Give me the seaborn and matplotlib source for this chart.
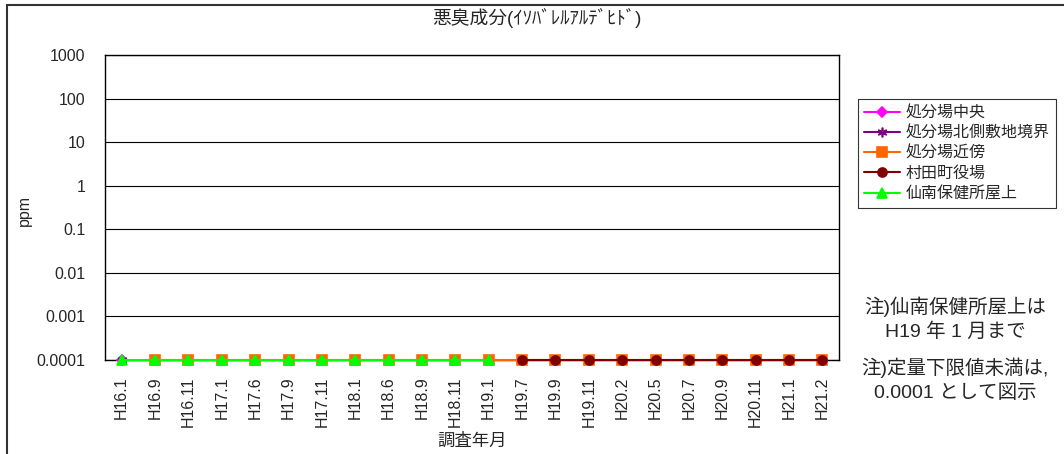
import numpy as np
import pandas as pd
import matplotlib
matplotlib.use("Agg")
from matplotlib import pyplot as plt
from matplotlib.patches import Rectangle
import seaborn as sns

months = ["H16.1", "H16.9", "H16.11", "H17.1", "H17.6", "H17.9", "H17.11",
          "H18.1", "H18.6", "H18.9", "H18.11", "H19.1", "H19.7", "H19.9",
          "H19.11", "H20.2", "H20.5", "H20.7", "H20.9", "H20.11", "H21.1", "H21.2"]

# all values below the detection limit -> plotted as 0.0001
nd = 0.0001
chuo = [nd] + [None] * 21                      # 処分場中央
kita = [nd] + [None] * 21                      # 処分場北側敷地境界
kinbo = [None] + [nd] * 21                     # 処分場近傍
yakuba = [None] * 12 + [nd] * 10               # 村田町役場
hokenjo = [nd] * 12 + [None] * 10              # 仙南保健所屋上

series_names = ["処分場中央", "処分場北側敷地境界", "処分場近傍", "村田町役場", "仙南保健所屋上"]
series_vals = [chuo, kita, kinbo, yakuba, hokenjo]
colors = ["#FF00FF", "#800080", "#FF6600", "#800000", "#00FF00"]
markers = ["D", (6, 2, 0), "s", "o", "^"]
msizes = [5.5, 7, 6.5, 6.5, 7.5]

rows = []
for name, vals in zip(series_names, series_vals):
    for i, v in enumerate(vals):
        if v is not None:
            rows.append({"pos": i, "month": months[i], "value": v, "series": name})
df = pd.DataFrame(rows)

sns.set_style("white")
plt.rcParams['font.family'] = ['Liberation Sans', 'Noto Sans CJK JP', 'DejaVu Sans']

fig = plt.figure(figsize=(10.64, 4.54), dpi=100)
ax = fig.add_axes([105 / 1064, 1 - 360 / 454, 734 / 1064, 305 / 454])

for name, c, m, ms in zip(series_names, colors, markers, msizes):
    sub = df[df["series"] == name]
    sns.lineplot(data=sub, x="pos", y="value", color=c, marker=m, markersize=ms,
                 markeredgecolor=c, markeredgewidth=1.2, linewidth=1.5,
                 label=name, ax=ax, clip_on=False, zorder=3)

ax.set_yscale("log")
ax.set_ylim(0.0001, 1000)
ax.set_xlim(-0.5, len(months) - 0.5)
ax.set_yticks([10.0 ** k for k in range(-4, 4)])
ax.set_yticklabels(["0.0001", "0.001", "0.01", "0.1", "1", "10", "100", "1000"])
ax.yaxis.set_minor_locator(matplotlib.ticker.NullLocator())
ax.grid(axis="y", color="black", linewidth=0.8)
ax.set_axisbelow(True)

ax.set_xticks(np.arange(len(months)))
ax.set_xticklabels(months, rotation=90, fontsize=11.5)
ax.set_xticks(np.arange(len(months) + 1) - 0.5, minor=True)
ax.tick_params(axis="x", which="major", length=0, pad=12)
ax.tick_params(axis="x", which="minor", direction="in", length=4, width=0.8, color="black")
ax.tick_params(axis="y", which="major", length=0, pad=14, labelsize=11.5)

for s in ax.spines.values():
    s.set_color("black")
    s.set_linewidth(1.0)

ax.set_xlabel("調査年月", fontsize=12.5, labelpad=4)
ax.set_ylabel("ppm", fontsize=11.5)
ax.yaxis.set_label_coords(-0.1, 0.49)

fig.text(0.505, 1 - 18 / 454, "悪臭成分(ｲｿﾊﾞﾚﾙｱﾙﾃﾞﾋﾄﾞ)", ha="center", va="center", fontsize=13.5)

leg = ax.legend(loc="upper left", bbox_to_anchor=(858 / 1064, 1 - 99 / 454),
                bbox_transform=fig.transFigure, frameon=True, fancybox=False,
                fontsize=11.5, handlelength=2.2, labelspacing=0.32, borderaxespad=0,
                borderpad=0.4, handletextpad=0.4)
leg.get_frame().set_edgecolor("black")
leg.get_frame().set_linewidth(0.8)

notes = ["注)仙南保健所屋上は", "H19 年 1 月まで", "注)定量下限値未満は,", "0.0001 として図示"]
note_y = [307, 332, 368, 393]
for t, y in zip(notes, note_y):
    fig.text(955 / 1064, 1 - y / 454, t, ha="center", va="center", fontsize=14)

fig.patches.append(Rectangle((7 / 1064, -0.5), 2, 0.5 + 1 - 5 / 454,
                             transform=fig.transFigure, fill=False,
                             edgecolor="#333333", linewidth=1.5))

fig.savefig("out.png", dpi=100)
